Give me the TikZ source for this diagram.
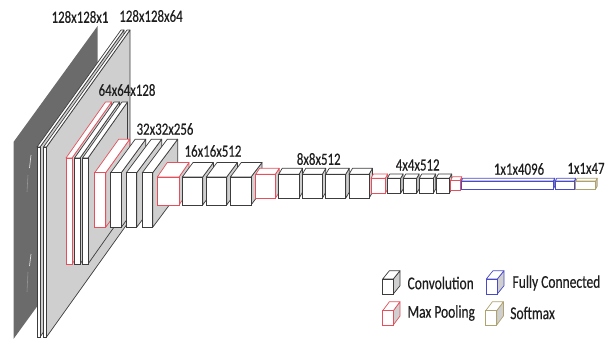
\documentclass[tikz,border=0pt]{standalone}
\usepackage{fontspec}
\usepackage{xcolor}
\usetikzlibrary{positioning,calc}
\newfontfamily\labelfont[FakeStretch=0.75,FakeBold=0.35]{Carlito}
\definecolor{conv}{HTML}{3C3C3C}
\definecolor{pool}{HTML}{E4505C}
\definecolor{full}{HTML}{4A4AC8}
\definecolor{soft}{HTML}{B0A26E}
\definecolor{side}{HTML}{CFCFCF}
\definecolor{photo}{HTML}{6B6B6B}
\definecolor{ink}{HTML}{1E1E1E}
% #1 colour, #2-#5 front face (x0,y0,x1,y1), #6 #7 depth
\newcommand{\layerbox}[7]{%
  \draw[line width=0.5pt, color=#1, fill=side, line join=round] (#4,#3) -- ({#4+#6},{#3-#7}) -- ({#4+#6},{#5-#7}) -- (#4,#5) -- cycle;
  \draw[line width=0.5pt, color=#1, fill=white, line join=round] (#2,#3) -- ({#2+#6},{#3-#7}) -- ({#4+#6},{#3-#7}) -- (#4,#3) -- cycle;
  \draw[line width=0.5pt, color=#1, fill=white] (#2,#3) rectangle (#4,#5);
}
\tikzset{
  size/.style={font=\labelfont\color{ink}\fontsize{12.2}{14}\selectfont, inner sep=0pt},
  key/.style={font=\labelfont\color{ink}\fontsize{12.8}{14}\selectfont, inner sep=0pt, anchor=west},
}

\begin{document}
\begin{tikzpicture}[x=0.25mm, y=-0.25mm]
  \useasboundingbox (0,0) rectangle (615,340);

  % input image
  \fill[photo] (13.5,142) -- (97.6,26) -- (97.6,223) -- (13.5,339) -- cycle;
  \draw[line width=0.5pt, color=white!75!photo] (31,155) -- (29.5,168);
  \draw[line width=0.5pt, color=white!75!photo] (31,254) -- (29.5,266);
  \draw[line width=0.4pt, color=white!30!photo] (28,175) -- (27,192);
  \draw[line width=0.4pt, color=white!30!photo] (28,272) -- (27,292);

  % 128x128x64
  \layerbox{conv}{37}{147}{40}{337}{84}{117}
  \layerbox{conv}{43.5}{147}{46.5}{337}{83.5}{117}

  % 64x64x128
  \layerbox{pool}{66}{158}{72}{264}{39.5}{56}
  \layerbox{conv}{74.5}{158}{80}{264}{39.5}{56}
  \layerbox{conv}{82.5}{158}{88}{264}{39.5}{56}

  % 32x32x256
  \layerbox{pool}{94.7}{172.7}{105.7}{227.3}{24}{33.5}
  \layerbox{conv}{110.7}{172.7}{121.3}{227.3}{24.5}{33.5}
  \layerbox{conv}{126.3}{172.7}{136.7}{227.3}{25}{33.5}
  \layerbox{conv}{142.3}{172.7}{152.7}{227.3}{25}{33.5}

  % 16x16x512
  \layerbox{pool}{157.3}{177}{179}{205}{10}{14.5}
  \layerbox{conv}{182.3}{177}{202.7}{205}{10.7}{14.5}
  \layerbox{conv}{206.3}{177}{226.7}{205}{10.7}{14.5}
  \layerbox{conv}{230.3}{177}{251}{205}{11}{14.5}

  % 8x8x512
  \layerbox{pool}{255.7}{174.3}{275.3}{198.3}{4}{6}
  \layerbox{conv}{278.7}{174.3}{299}{198.3}{3.5}{6}
  \layerbox{conv}{302.3}{174.3}{322.3}{198.3}{3.5}{6}
  \layerbox{conv}{325.7}{174.3}{345.7}{198.3}{3.5}{6}
  \layerbox{conv}{349}{174.3}{369}{198.3}{3.5}{6}

  % 4x4x512
  \layerbox{pool}{371}{178.3}{385.3}{193.3}{2.4}{4.3}
  \layerbox{conv}{387.3}{178.3}{400.7}{193.3}{2.4}{4.3}
  \layerbox{conv}{403.3}{178.3}{416.7}{193.3}{2.4}{4.3}
  \layerbox{conv}{419.3}{178.3}{433.3}{193.3}{2.4}{4.3}
  \layerbox{conv}{436}{178.3}{449.3}{193.3}{2.4}{4.3}

  % last layers
  \layerbox{pool}{450.7}{180.7}{460}{190.7}{1.8}{4}
  \layerbox{full}{461.3}{181}{553.3}{189}{1.5}{2.8}
  \layerbox{full}{555.3}{181}{574.3}{189}{1.5}{2.8}
  \layerbox{soft}{575.7}{181}{595.7}{189}{1.5}{2.8}

  % sizes
  \node[size] (inputsize) at (80,17) {128x128x1};
  \node[size] (convsizea) at (151,16) {128x128x64};
  \node[size] (convsizeb) at (127,90) {64x64x128};
  \node[size] (convsizec) at (165,129) {32x32x256};
  \node[size] (convsized) at (213,151) {16x16x512};
  \node[size] (convsizee) at (318.7,159) {8x8x512};
  \node[size] (convsizef) at (417.7,165) {4x4x512};
  \node[size] (fullsize) at (519,169) {1x1x4096};
  \node[size] (softsize) at (586,168.3) {1x1x47};

  % legend
  \layerbox{conv}{382.7}{279}{393.3}{294}{6.7}{8.3}
  \layerbox{full}{486.3}{279}{497.3}{294}{6.7}{8.3}
  \layerbox{pool}{382.7}{310.7}{393.3}{325}{6.7}{9}
  \layerbox{soft}{485.7}{310.7}{496.7}{325}{6.7}{9}
  \node[key] (convkey) at (407.3,283) {Convolution};
  \node[key] (fullkey) at (512.3,283) {Fully Connected};
  \node[key] (poolkey) at (407.3,313) {Max Pooling};
  \node[key] (softkey) at (510,313) {Softmax};
\end{tikzpicture}
\end{document}
